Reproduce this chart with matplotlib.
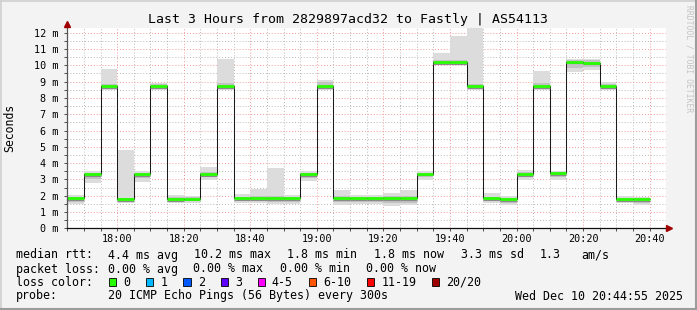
import matplotlib
matplotlib.use("Agg")
import matplotlib.pyplot as plt
import matplotlib.dates as mdates
from matplotlib.lines import Line2D
from matplotlib.patches import Rectangle
import numpy as np
import pandas as pd

# smokeping data, 5 minute steps, values in ms
step_start = pd.date_range("2025-12-10 17:45", periods=35, freq="5min")
median = [1.84, 3.33, 8.73, 1.80, 3.33, 8.73, 1.80, 1.82, 3.33, 8.73,
          1.85, 1.85, 1.85, 1.85, 3.33, 8.73, 1.85, 1.84, 1.84, 1.84,
          1.84, 3.35, 10.20, 10.20, 8.73, 1.84, 1.78, 3.31, 8.73, 3.37,
          10.22, 10.16, 8.73, 1.80, 1.80]
ping_max = [2.02, 3.50, 9.80, 4.82, 3.50, 8.92, 2.06, 2.00, 3.74, 10.40,
            2.10, 2.41, 3.70, 2.06, 3.50, 9.12, 2.33, 2.06, 2.06, 2.16,
            2.33, 3.50, 10.75, 11.78, 12.30, 2.16, 2.00, 3.60, 9.63, 3.50,
            10.40, 10.40, 8.95, 1.96, 1.94]
ping_min = [1.49, 2.78, 8.50, 1.55, 2.85, 8.50, 1.55, 1.55, 2.98, 8.50,
            1.55, 1.55, 1.49, 1.49, 2.92, 8.50, 1.41, 1.49, 1.49, 1.35,
            1.41, 2.98, 10.00, 10.00, 8.50, 1.55, 1.45, 2.98, 8.50, 2.98,
            9.59, 9.70, 8.50, 1.55, 1.41]
mid_lo = [1.62, 3.05, 8.58, 1.65, 3.08, 8.58, 1.65, 1.66, 3.12, 8.58,
          1.68, 1.68, 1.62, 1.62, 3.08, 8.58, 1.62, 1.64, 1.64, 1.55,
          1.55, 3.12, 10.05, 10.05, 8.58, 1.66, 1.58, 3.12, 8.58, 3.14,
          9.85, 9.90, 8.58, 1.65, 1.55]
mid_hi = [1.92, 3.42, 8.85, 1.88, 3.42, 8.85, 1.92, 1.92, 3.45, 8.90,
          1.95, 1.98, 2.00, 1.95, 3.42, 8.95, 1.98, 1.95, 1.95, 1.98,
          2.00, 3.42, 10.35, 10.35, 8.85, 1.95, 1.88, 3.45, 8.90, 3.45,
          10.32, 10.30, 8.85, 1.88, 1.86]

loss_labels = ["0", "1", "2", "3", "4-5", "6-10", "11-19", "20/20"]
loss_colors = ["#26ff00", "#00b8ff", "#0059ff", "#5e00ff", "#ff00ff",
               "#ff5500", "#ff0000", "#a10000"]

W, H = 697, 310
MONO = "DejaVu Sans Mono"

fig = plt.figure(figsize=(W / 100, H / 100), dpi=100, facecolor="#f3f3f3")


def fx(x):
    return x / W


def fy(y):
    return 1 - y / H


ax = fig.add_axes([fx(67), fy(228.3), fx(666 - 67), (228.3 - 28) / H])
ax.set_facecolor("white")

width = pd.Timedelta(minutes=5) / pd.Timedelta(days=1)
x0 = mdates.date2num(step_start)
lo = np.array(ping_min)
hi = np.array(ping_max)
ax.bar(x0, hi - lo, bottom=lo, width=width, align="edge", color="#dcdcdc", lw=0, zorder=2)
ax.bar(x0, np.array(mid_hi) - np.array(mid_lo), bottom=mid_lo, width=width,
       align="edge", color="#c2c2c2", lw=0, zorder=2)

edges = np.append(x0, x0[-1] + width)
ax.stairs(median, edges, baseline=None, color="#1a1a1a", lw=0.75, zorder=3)
for xs, m in zip(x0, median):
    ax.plot([xs, xs + width], [m - 0.1, m - 0.1], color="#8a8a8a", lw=0.8, zorder=3,
            solid_capstyle="butt")
    ax.plot([xs, xs + width], [m, m], color=loss_colors[0], lw=2.0, zorder=4,
            solid_capstyle="butt")

ax.set_xlim(mdates.date2num(pd.Timestamp("2025-12-10 17:44:55")),
            mdates.date2num(pd.Timestamp("2025-12-10 20:44:55")))
ax.set_ylim(0, 12.29)

ax.xaxis.set_major_locator(mdates.MinuteLocator(byminute=[0, 20, 40]))
ax.xaxis.set_minor_locator(mdates.MinuteLocator(byminute=[5, 10, 15, 25, 30, 35, 45, 50, 55]))
ax.xaxis.set_major_formatter(mdates.DateFormatter("%H:%M"))
ax.set_yticks(np.arange(0, 13, 1))
ax.set_yticks(np.arange(0.5, 12.5, 1), minor=True)
ax.set_yticklabels([f"{v} m" for v in range(13)])

dot = (0, (1, 2))
ax.grid(which="major", color="#f29a9a", linestyle=dot, lw=0.7, zorder=1)
ax.grid(which="minor", color="#b8b8b8", linestyle=dot, lw=0.7, zorder=1)
ax.set_axisbelow(True)

ax.tick_params(which="both", direction="out", length=2, width=0.6, color="#333333")
ax.tick_params(axis="x", labelsize=7.3, pad=2)
ax.tick_params(axis="y", labelsize=7.3, pad=4)
for lab in ax.get_xticklabels() + ax.get_yticklabels():
    lab.set_family(MONO)
for s in ax.spines.values():
    s.set_visible(False)

# axis lines with arrow heads
fig.add_artist(Line2D([fx(67), fx(67)], [fy(228.3), fy(25)], color="#555555", lw=0.9))
fig.add_artist(Line2D([fx(67), fx(669)], [fy(228.3), fy(228.3)], color="#111111", lw=0.9))
fig.add_artist(Line2D([fx(67)], [fy(24)], marker="^", ms=4, color="#a00000", lw=0))
fig.add_artist(Line2D([fx(669)], [fy(228.3)], marker=">", ms=4, color="#a00000", lw=0))

fig.text(fx(348), fy(19), "Last 3 Hours from 2829897acd32 to Fastly | AS54113",
         family=MONO, fontsize=9.5, ha="center", va="center")
fig.text(fx(10), fy(128), "Seconds", family=MONO, fontsize=8.3, rotation=90,
         ha="center", va="center")
fig.text(fx(689), fy(5), "RRDTOOL / TOBI OETIKER", family=MONO, fontsize=5.8,
         rotation=270, ha="center", va="top", color="#c4c4c4")

# legend rows
fs = 8.4
rows = [
    (255, [(16, "median rtt:"), (107.6, "4.4 ms avg"), (194.2, "10.2 ms max"),
           (287, "1.8 ms min"), (374, "1.8 ms now"), (460.7, "3.3 ms sd"),
           (539.3, "1.3"), (581.7, "am/s")]),
    (269, [(16, "packet loss:"), (107.6, "0.00 % avg"), (193.3, "0.00 % max"),
           (279.9, "0.00 % min"), (366, "0.00 % now")]),
    (282.3, [(16, "loss color:")]),
    (296, [(16, "probe:"), (107.6, "20 ICMP Echo Pings (56 Bytes) every 300s")]),
]
for y, items in rows:
    for x, t in items:
        fig.text(fx(x), fy(y), t, family=MONO, fontsize=fs, ha="left", va="center")
fig.text(fx(683), fy(296), "Wed Dec 10 20:44:55 2025", family=MONO, fontsize=fs,
         ha="right", va="center")

box_x = [109.4, 146.4, 183.5, 220.5, 257.6, 308.9, 367, 432.1]
for bx, lab, col in zip(box_x, loss_labels, loss_colors):
    fig.add_artist(Rectangle((fx(bx), fy(286)), 7 / W, 8 / H, facecolor=col,
                             edgecolor="black", lw=0.6))
    fig.text(fx(bx + 14.3), fy(282.3), lab, family=MONO, fontsize=fs, ha="left", va="center")

# frame
fig.add_artist(Line2D([0, 1], [fy(0.5), fy(0.5)], color="#cfcfcf", lw=1.2))
fig.add_artist(Line2D([fx(0.5), fx(0.5)], [0, 1], color="#cfcfcf", lw=1.2))
fig.add_artist(Line2D([0, 1], [fy(309), fy(309)], color="#9c9c9c", lw=1.5))
fig.add_artist(Line2D([fx(696), fx(696)], [0, 1], color="#9c9c9c", lw=1.5))

fig.savefig("out.png", dpi=100, facecolor=fig.get_facecolor())
